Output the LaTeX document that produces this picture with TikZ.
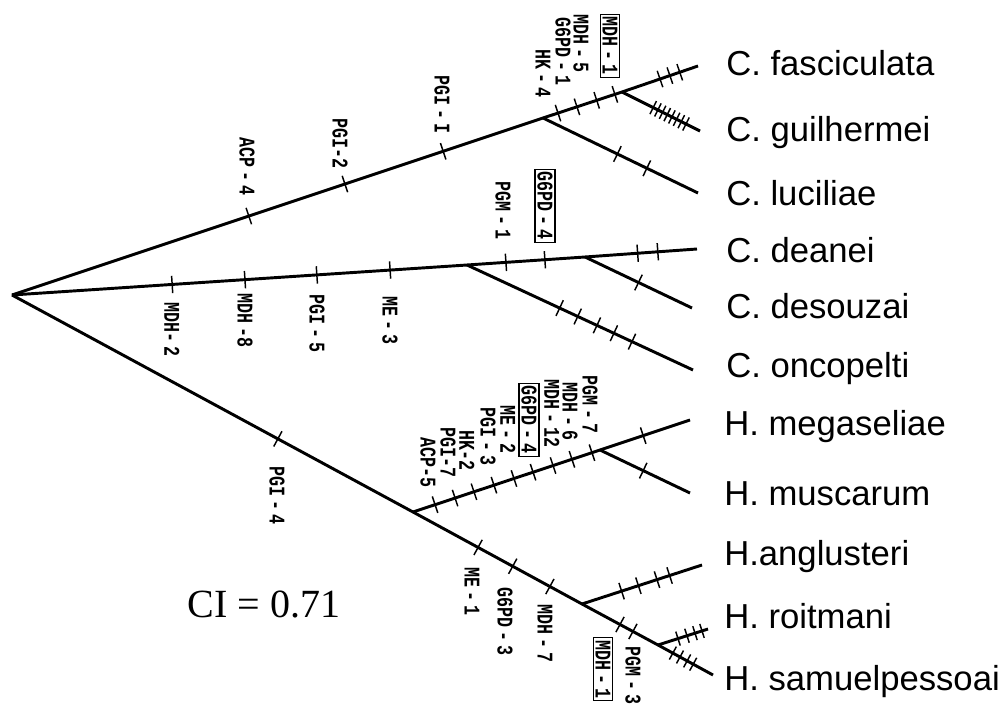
\documentclass[tikz,border=0pt]{standalone}
\usepackage{fontspec}
\usetikzlibrary{calc}
\newfontfamily\genefont[WordSpace=0.4]{Liberation Mono}
\newfontfamily\spfont{Liberation Sans}
\newfontfamily\cifont{Liberation Serif}

\tikzset{
  branch/.style={line width=2.2pt, line join=round},
  tickline/.style={line width=1.1pt},
  gene/.style={font=\genefont\bfseries\fontsize{12.5}{13}\selectfont, rotate=-90, inner sep=0.5pt},
  geneup/.style={gene, anchor=east},
  genedown/.style={gene, anchor=west},
  boxed/.style={draw, line width=0.9pt, inner sep=1.8pt},
  species/.style={font=\spfont\fontsize{26}{28}\selectfont, anchor=base west, inner sep=0pt},
}
% a short stroke across segment (#2)--(#3) at fraction #4
\newcommand\hashmark[4][6.5pt]{\draw[tickline] ($(#2)!#4!(#3)!#1!90:(#3)$) -- ($(#2)!#4!(#3)!#1!-90:(#3)$);}
\newcommand\gl[1]{\scalebox{1}[1.35]{#1}}

\begin{document}
\begin{tikzpicture}[x=0.75pt,y=-0.75pt]
\useasboundingbox (0,0) rectangle (1000,710);

% branch points and tips
\coordinate (R)  at (12,295);
\coordinate (U1) at (543,118);
\coordinate (U2) at (622,92);
\coordinate (tFas) at (698,66);
\coordinate (tGui) at (700,131);
\coordinate (tLuc) at (698,193);
\coordinate (M1) at (467,265);
\coordinate (M2) at (585,257);
\coordinate (tDea) at (697,249);
\coordinate (tDes) at (692,308);
\coordinate (tOnc) at (693,370);
\coordinate (L1) at (413,512);
\coordinate (L2) at (600,450);
\coordinate (tMeg) at (690,420);
\coordinate (tMus) at (690,493);
\coordinate (L3) at (582,604);
\coordinate (tAng) at (702,565);
\coordinate (L4) at (658,645);
\coordinate (tRoi) at (708,629);
\coordinate (tSam) at (713,675);

% branches
\draw[branch] (R) -- (U1) -- (U2) -- (tFas);
\draw[branch] (U2) -- (tGui);
\draw[branch] (U1) -- (tLuc);
\draw[branch] (R) -- (M1) -- (M2) -- (tDea);
\draw[branch] (M2) -- (tDes);
\draw[branch] (M1) -- (tOnc);
\draw[branch] (R) -- (L1) -- (L3) -- (L4) -- (tSam);
\draw[branch] (L1) -- (L2) -- (tMeg);
\draw[branch] (L2) -- (tMus);
\draw[branch] (L3) -- (tAng);
\draw[branch] (L4) -- (tRoi);

% character changes
\foreach \t in {0.446,0.627,0.812} \hashmark{R}{U1}{\t};
\foreach \t in {0.19,0.43,0.68,0.91} \hashmark{U1}{U2}{\t};
\foreach \t in {0.5,0.63,0.76} \hashmark{U2}{tFas}{\t};
\foreach \t in {0.40,0.46,0.52,0.58,0.64,0.70,0.76,0.82} \hashmark[5.5pt]{U2}{tGui}{\t};
\foreach \t in {0.48,0.67} \hashmark{U1}{tLuc}{\t};
\foreach \t in {0.352,0.512,0.670,0.831} \hashmark{R}{M1}{\t};
\foreach \t in {0.33,0.66} \hashmark{M1}{M2}{\t};
\foreach \t in {0.47,0.65} \hashmark{M2}{tDea}{\t};
\hashmark{M2}{tDes}{0.5}
\foreach \t in {0.41,0.49,0.575,0.65,0.73} \hashmark{M1}{tOnc}{\t};
\hashmark{R}{L1}{0.663}
\foreach \t in {0.118,0.225,0.326,0.433,0.540,0.642,0.749,0.850,0.957} \hashmark{L1}{L2}{\t};
\hashmark{L2}{tMeg}{0.48}
\hashmark{L2}{tMus}{0.48}
\foreach \t in {0.385,0.59,0.81} \hashmark{L1}{L3}{\t};
\foreach \t in {0.33,0.47,0.625,0.73} \hashmark{L3}{tAng}{\t};
\foreach \t in {0.5,0.67} \hashmark{L3}{L4}{\t};
\foreach \t in {0.4,0.58,0.74,0.88} \hashmark[5.5pt]{L4}{tRoi}{\t};
\foreach \t in {0.27,0.4,0.53,0.64} \hashmark[5.5pt]{L4}{tSam}{\t};

% enzyme labels, upper clade
\node[geneup] (gACPa) at (247,196) {\gl{ACP - 4}};
\node[geneup] (gPGIb) at (340,169) {\gl{PGI-2}};
\node[geneup] (gPGIi) at (442,134) {\gl{PGI - I}};
\node[geneup] (gHKd)  at (543,98)  {\gl{HK - 4}};
\node[geneup] (gGPa)  at (563,86)  {\gl{G6PD - 1}};
\node[geneup] (gMDHe) at (581,73)  {\gl{MDH - 5}};
\node[geneup,boxed] (gMDHa) at (610,78) {\gl{MDH - 1}};

% enzyme labels, middle clade
\node[genedown] (gMDHb) at (172,302) {\gl{MDH- 2}};
\node[genedown] (gMDHh) at (245,293) {\gl{MDH -8}};
\node[genedown] (gPGIe) at (317,294) {\gl{PGI - 5}};
\node[genedown] (gMEc)  at (390,296) {\gl{ME - 3}};
\node[geneup] (gPGMa) at (503,240) {\gl{PGM - 1}};
\node[geneup,boxed] (gGPd) at (545,243) {\gl{G6PD - 4}};

% enzyme labels, lower clade
\node[genedown] (gPGId) at (277,466) {\gl{PGI - 4}};
\node[geneup] (gACPe) at (428,488) {\gl{ACP-5}};
\node[geneup] (gPGIg) at (448,478) {\gl{PGI-7}};
\node[geneup] (gHKb)  at (467,471) {\gl{HK-2}};
\node[geneup] (gPGIc) at (488,466) {\gl{PGI - 3}};
\node[geneup] (gMEb)  at (508,454) {\gl{ME - 2}};
\node[geneup,boxed] (gGPdd) at (529,457) {\gl{G6PD - 4}};
\node[geneup] (gMDHl) at (552,448) {\gl{MDH - 12}};
\node[geneup] (gMDHf) at (570,441) {\gl{MDH - 6}};
\node[geneup] (gPGMg) at (590,434) {\gl{PGM - 7}};
\node[genedown] (gMEa)  at (472,567) {\gl{ME - 1}};
\node[genedown] (gGPc)  at (505,587) {\gl{G6PD - 3}};
\node[genedown] (gMDHg) at (545,604) {\gl{MDH - 7}};
\node[genedown,boxed] (gMDHaa) at (603,637) {\gl{MDH - 1}};
\node[genedown] (gPGMc) at (633,646) {\gl{PGM - 3}};

% taxa
\node[species] (sFas) at (726,75)  {C. fasciculata};
\node[species] (sGui) at (726,142) {C. guilhermei};
\node[species] (sLuc) at (726,205) {C. luciliae};
\node[species] (sDea) at (726,262) {C. deanei};
\node[species] (sDes) at (726,318) {C. desouzai};
\node[species] (sOnc) at (726,377) {C. oncopelti};
\node[species] (sMeg) at (724,435) {H. megaseliae};
\node[species] (sMus) at (724,505) {H. muscarum};
\node[species] (sAng) at (724,565) {H.anglusteri};
\node[species] (sRoi) at (724,628) {H. roitmani};
\node[species] (sSam) at (724,690) {H. samuelpessoai};

% consistency index
\node[font=\cifont\fontsize{30}{32}\selectfont, inner sep=0pt] (ci) at (264,604) {CI = 0.71};
\end{tikzpicture}
\end{document}
